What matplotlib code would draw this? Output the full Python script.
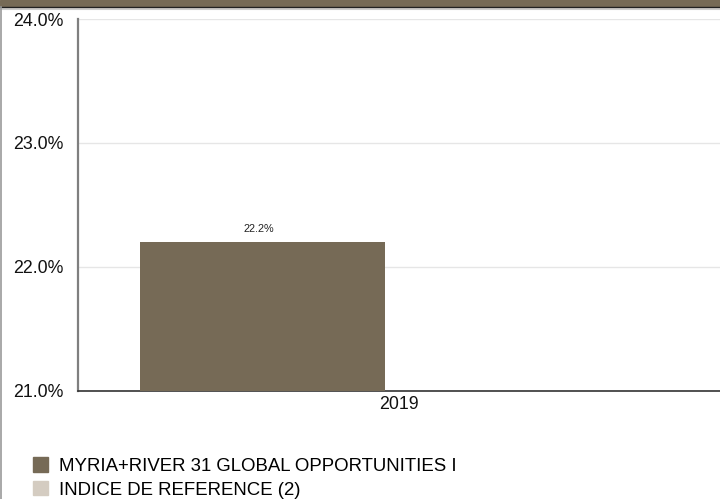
import matplotlib.pyplot as plt
import matplotlib.patches as mpatches
from matplotlib.lines import Line2D
import numpy as np

plt.rcParams['font.family'] = ['Liberation Sans', 'DejaVu Sans']

# data
years = ['2019']
fund_vals = [22.2]
index_vals = [np.nan]
series_names = ['MYRIA+RIVER 31 GLOBAL OPPORTUNITIES I', 'INDICE DE REFERENCE (2)']
colors = ['#766a56', '#d4ccc1']
yticks = [21.0, 22.0, 23.0, 24.0]

fig = plt.figure(figsize=(7.2, 4.99), dpi=100)
ax = fig.add_axes([78 / 720, 1 - 390.5 / 499, 642 / 720, (390.5 - 19) / 499])

x = np.arange(len(years))
w = 0.382
off = 0.2126
b1 = ax.bar(x - off, fund_vals, w, color=colors[0], label=series_names[0], zorder=3)
b2 = ax.bar(x + off, [0 if np.isnan(v) else v for v in index_vals], w,
            color=colors[1], label=series_names[1], zorder=3)
for r, v in zip(b1, fund_vals):
    ax.text(r.get_x() + r.get_width() / 2 - 0.006, v + 0.06, f'{v:.1f}%',
            ha='center', va='bottom', fontsize=7.8, color='#222222')

ax.set_xlim(-0.5, 0.5)
ax.set_ylim(21.0, 24.0)
ax.set_yticks(yticks)
ax.set_yticklabels([f'{t:.1f}%' for t in yticks])
ax.set_xticks(x)
ax.set_xticklabels(years)
ax.tick_params(axis='both', length=0, labelsize=12.8, colors='#111111')
ax.tick_params(axis='y', pad=10.5)
ax.tick_params(axis='x', pad=4)
ax.grid(axis='y', color='#e6e6e6', linewidth=1, zorder=0)
for s in ['top', 'right']:
    ax.spines[s].set_visible(False)
ax.spines['left'].set_color('#7f7f7f')
ax.spines['left'].set_linewidth(1.6)
ax.spines['bottom'].set_color('#333333')
ax.spines['bottom'].set_linewidth(1.2)

# header band and frame
fig.patches.append(mpatches.Rectangle((0, 1 - 7 / 499), 1, 7 / 499, transform=fig.transFigure,
                                      color='#766a56', zorder=0))
fig.lines.append(Line2D([0, 1], [1 - 7 / 499, 1 - 7 / 499], transform=fig.transFigure,
                        color='#222222', linewidth=1.0))
fig.lines.append(Line2D([0, 1], [1 - 8.5 / 499, 1 - 8.5 / 499], transform=fig.transFigure,
                        color='#cccccc', linewidth=0.8))
fig.lines.append(Line2D([0.8 / 720, 0.8 / 720], [0, 1 - 7 / 499], transform=fig.transFigure,
                        color='#9a9a9a', linewidth=1.2))

handles = [mpatches.Patch(color=c) for c in colors]
fig.legend(handles, series_names, loc='upper left', bbox_to_anchor=(26 / 720, 1 - 450 / 499),
           frameon=False, fontsize=13.4, handlelength=0.8, handleheight=0.8,
           handletextpad=0.55, labelspacing=0.33, borderaxespad=0)

fig.savefig('out.png', dpi=100)
